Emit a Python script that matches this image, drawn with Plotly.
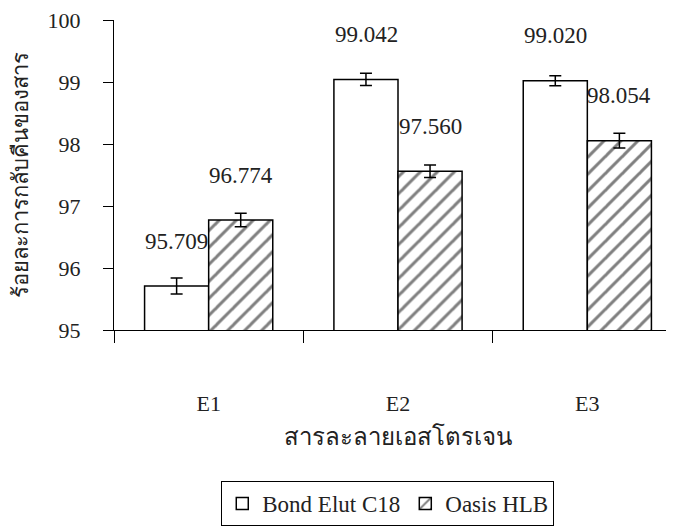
import plotly.graph_objects as go

categories = ["E1", "E2", "E3"]
bond_elut = [95.709, 99.042, 99.020]
bond_err = [0.13, 0.10, 0.08]
oasis = [96.774, 97.560, 98.054]
oasis_err = [0.11, 0.10, 0.12]
series_names = ["Bond Elut C18", "Oasis HLB"]
y_title = "ร้อยละการกลับคืนของสาร"
x_title = "สารละลายเอสโตรเจน"

FONT = "Liberation Serif, Times New Roman, serif"

fig = go.Figure()
fig.add_trace(go.Bar(
    x=categories, y=bond_elut, name=series_names[0],
    marker=dict(color="white", line=dict(color="black", width=1.5)),
    error_y=dict(type="data", array=bond_err, color="black", thickness=1.5, width=6),
))
fig.add_trace(go.Bar(
    x=categories, y=oasis, name=series_names[1],
    marker=dict(color="white", line=dict(color="black", width=1.5),
                pattern=dict(shape="/", fgcolor="black", bgcolor="white", size=12, solidity=0.25)),
    error_y=dict(type="data", array=oasis_err, color="black", thickness=1.5, width=6),
))

for vals, shift in ((bond_elut, -32), (oasis, 32)):
    for c, v in zip(categories, vals):
        fig.add_annotation(x=c, y=v, text=f"{v:.3f}", showarrow=False,
                           xshift=shift, yshift=45, yanchor="middle",
                           font=dict(family=FONT, size=23, color="#222"))

fig.update_layout(
    width=674, height=526,
    margin=dict(l=106, r=0, t=12, b=204),
    paper_bgcolor="white", plot_bgcolor="white",
    barmode="group", bargap=0.323, bargroupgap=0,
    font=dict(family=FONT, size=22, color="#222"),
    showlegend=True,
    legend=dict(orientation="h", x=0.482, xanchor="center", y=-0.487, yanchor="top",
                bordercolor="black", borderwidth=1, bgcolor="white",
                font=dict(family=FONT, size=23, color="#222")),
    xaxis=dict(range=[-0.5, 2.5], showline=True, linecolor="black", linewidth=1,
               ticks="outside", tickson="boundaries", ticklen=12, tickcolor="black",
               ticklabelstandoff=54, showgrid=False, automargin=False,
               title=dict(text=x_title, standoff=12, font=dict(size=24))),
    yaxis=dict(range=[95, 100], dtick=1, showline=True, linecolor="black", linewidth=1,
               ticks="outside", ticklen=10, tickcolor="black", showgrid=False, zeroline=False,
               ticklabelstandoff=18, automargin=False, ticklabeloverflow="allow",
               title=dict(text=y_title, standoff=18, font=dict(size=22))),
)

fig.write_html("out.html")
